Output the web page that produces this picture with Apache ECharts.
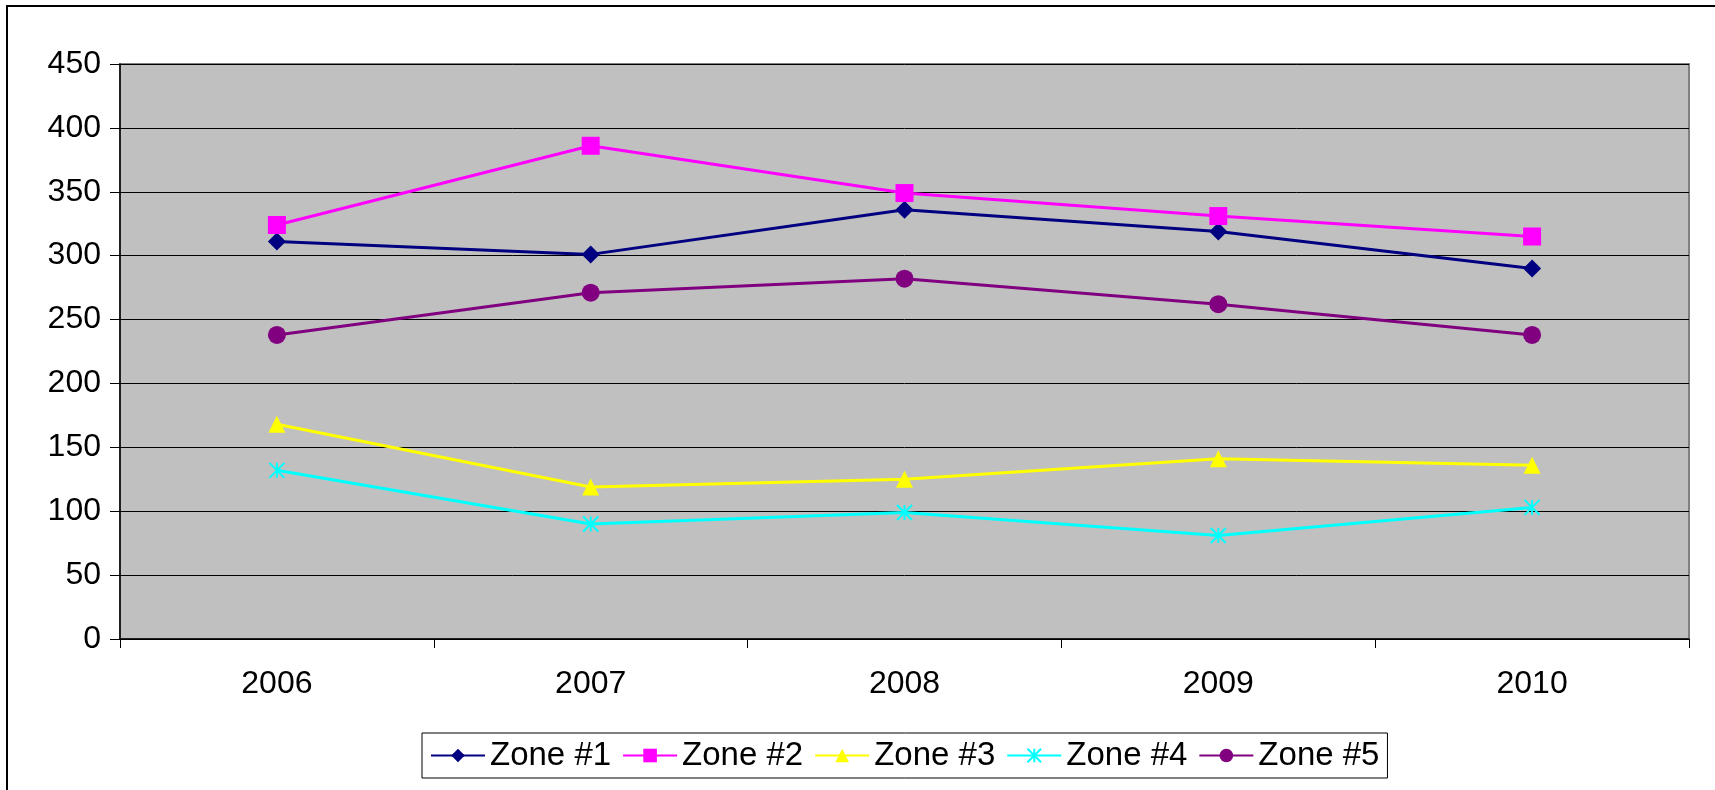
<!DOCTYPE html>
<html>
<head>
<meta charset="utf-8">
<script src="https://cdn.jsdelivr.net/npm/echarts@6/dist/echarts.min.js"></script>
<style>
html,body{margin:0;padding:0;background:#fff;}
#main{width:1715px;height:790px;}
</style>
</head>
<body>
<div id="main"></div>
<script>
const categories = ['2006', '2007', '2008', '2009', '2010'];
const zone1 = [311, 301, 336, 319, 290];
const zone2 = [324, 386, 349, 331, 315];
const zone3 = [168, 119, 125, 141, 136];
const zone4 = [132, 90, 99, 81, 103];
const zone5 = [238, 271, 282, 262, 238];
const seriesNames = ['Zone #1', 'Zone #2', 'Zone #3', 'Zone #4', 'Zone #5'];
const yTicks = { min: 0, max: 450, interval: 50 };

const FONT = 'Liberation Sans, Arial, sans-serif';
const starPath = 'path://M0,0L10,10M10,0L0,10M5,0L5,10';

function mk(name, data, color, symbol, size, extra) {
  return Object.assign({
    name: name,
    type: 'line',
    data: data,
    symbol: symbol,
    symbolSize: size,
    lineStyle: { color: color, width: 3 },
    itemStyle: { color: color },
    emphasis: { disabled: true },
    animation: false
  }, extra || {});
}

const chart = echarts.init(document.getElementById('main'), null, { renderer: 'canvas' });
chart.setOption({
  backgroundColor: '#ffffff',
  animation: false,
  graphic: [{
    type: 'rect',
    shape: { x: 7, y: 6, width: 1730, height: 810 },
    style: { fill: 'none', stroke: '#000', lineWidth: 2 },
    silent: true
  }],
  grid: {
    left: 120, right: 26, top: 64, bottom: 151,
    show: true,
    backgroundColor: '#C0C0C0',
    borderColor: '#808080',
    borderWidth: 2
  },
  legend: {
    data: seriesNames,
    left: 422,
    top: 733,
    orient: 'horizontal',
    itemWidth: 54,
    itemHeight: 17,
    itemGap: 11,
    itemTextGap: 4,
    padding: [6, 8, 6, 8],
    borderColor: '#000',
    borderWidth: 1,
    backgroundColor: '#fff',
    textStyle: { fontFamily: FONT, fontSize: 33, color: '#000' }
  },
  xAxis: {
    type: 'category',
    data: categories,
    boundaryGap: true,
    axisLine: { lineStyle: { color: '#000', width: 1.5 } },
    axisTick: { show: true, length: 9, inside: false, alignWithLabel: false, lineStyle: { color: '#000' } },
    axisLabel: { fontFamily: FONT, fontSize: 32, color: '#000', margin: 29 },
    splitLine: { show: false }
  },
  yAxis: {
    type: 'value',
    min: yTicks.min, max: yTicks.max, interval: yTicks.interval,
    axisLine: { show: true, lineStyle: { color: '#000', width: 1.5 } },
    axisTick: { show: true, length: 10, lineStyle: { color: '#000' } },
    axisLabel: { fontFamily: FONT, fontSize: 32, color: '#000', margin: 19 },
    splitLine: { show: true, lineStyle: { color: '#000', width: 1 } }
  },
  series: [
    mk(seriesNames[0], zone1, '#000080', 'diamond', 18),
    mk(seriesNames[1], zone2, '#FF00FF', 'rect', 18),
    mk(seriesNames[2], zone3, '#FFFF00', 'triangle', 17),
    mk(seriesNames[3], zone4, '#00FFFF', starPath, 15, {
      itemStyle: { color: 'rgba(0,0,0,0)', borderColor: '#00FFFF', borderWidth: 2 }
    }),
    mk(seriesNames[4], zone5, '#800080', 'circle', 18)
  ]
});
</script>
</body>
</html>
